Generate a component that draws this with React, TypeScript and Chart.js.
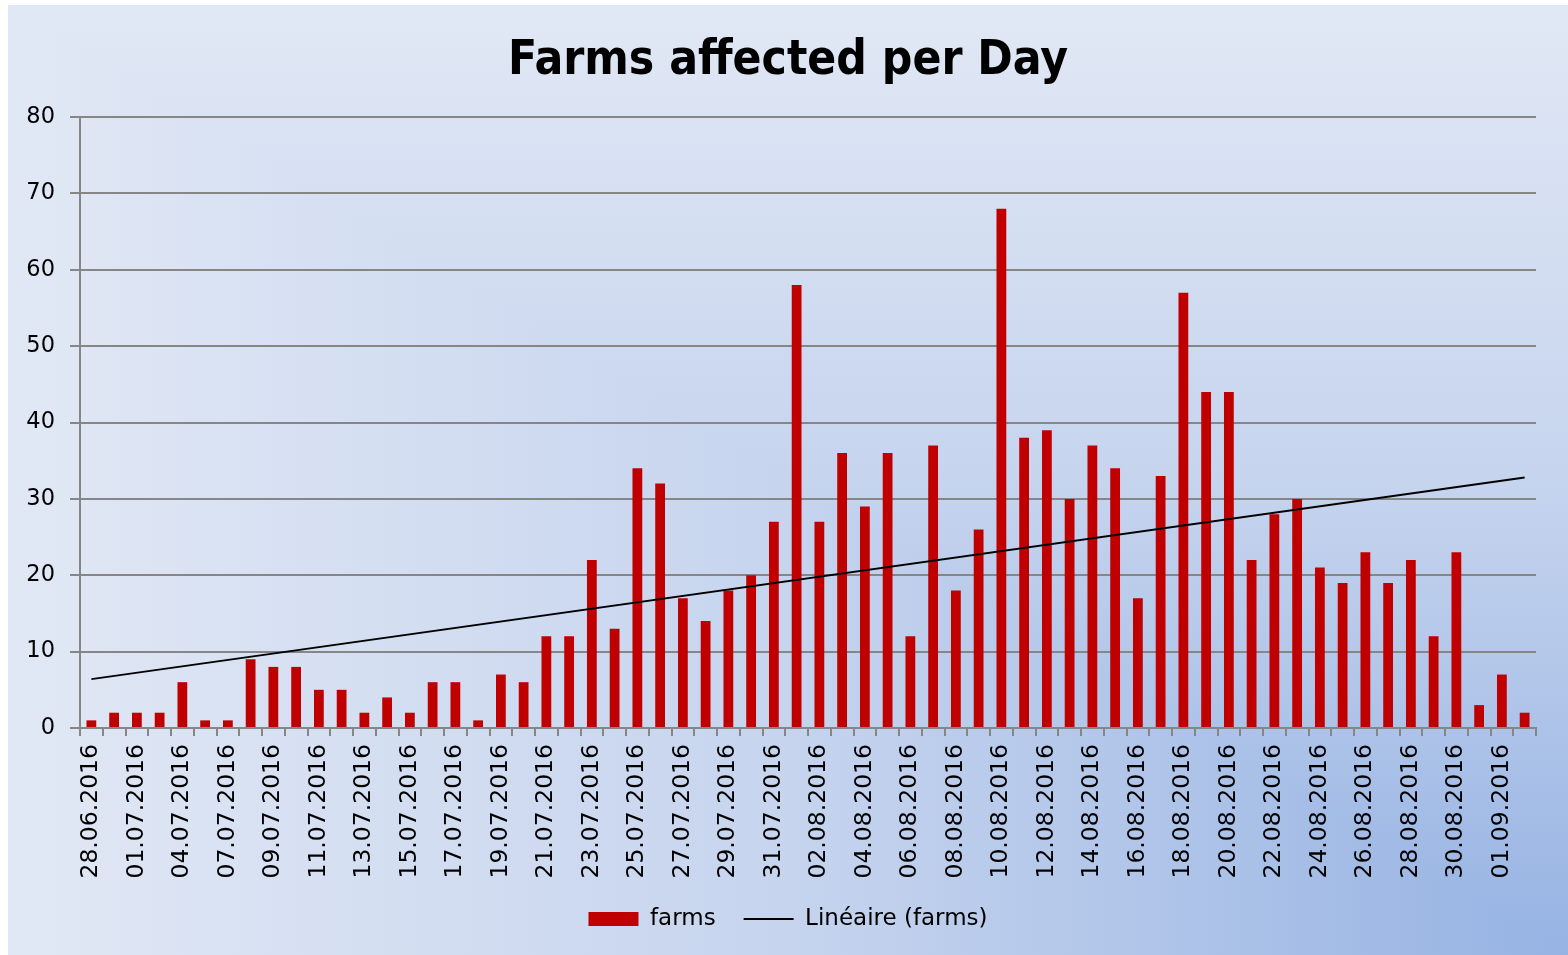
import { useEffect, useRef } from 'react';
import { Chart, registerables } from 'chart.js';

Chart.register(...registerables);

const categories = [
  '28.06.2016', '30.06.2016', '01.07.2016', '02.07.2016', '04.07.2016', '05.07.2016', '07.07.2016',
  '08.07.2016', '09.07.2016', '10.07.2016', '11.07.2016', '12.07.2016', '13.07.2016', '14.07.2016',
  '15.07.2016', '16.07.2016', '17.07.2016', '18.07.2016', '19.07.2016', '20.07.2016', '21.07.2016',
  '22.07.2016', '23.07.2016', '24.07.2016', '25.07.2016', '26.07.2016', '27.07.2016', '28.07.2016',
  '29.07.2016', '30.07.2016', '31.07.2016',
  '01.08.2016', '02.08.2016', '03.08.2016', '04.08.2016', '05.08.2016', '06.08.2016', '07.08.2016',
  '08.08.2016', '09.08.2016', '10.08.2016', '11.08.2016', '12.08.2016', '13.08.2016', '14.08.2016',
  '15.08.2016', '16.08.2016', '17.08.2016', '18.08.2016', '19.08.2016', '20.08.2016', '21.08.2016',
  '22.08.2016', '23.08.2016', '24.08.2016', '25.08.2016', '26.08.2016', '27.08.2016', '28.08.2016',
  '29.08.2016', '30.08.2016', '31.08.2016',
  '01.09.2016', '02.09.2016',
];

const farms = [
  1, 2, 2, 2, 6, 1, 1,
  9, 8, 8, 5, 5, 2, 4,
  2, 6, 6, 1, 7, 6, 12,
  12, 22, 13, 34, 32, 17, 14,
  18, 20, 27,
  58, 27, 36, 29, 36, 12, 37,
  18, 26, 68, 38, 39, 30, 37,
  34, 17, 33, 57, 44, 44, 22,
  28, 30, 21, 19, 23, 19, 22,
  12, 23, 3,
  7, 2,
];

// Excel linear trend line, read at its two ends
const trendStart = 6.4;
const trendEnd = 32.8;

const seriesName = 'farms';
const trendName = 'Linéaire (farms)';
const titleText = 'Farms affected per Day';

const GRAY = '#868686';
const RED = '#C00000';

export default function App() {
  const ref = useRef<HTMLCanvasElement | null>(null);

  useEffect(() => {
    if (!ref.current) return;
    const trend = categories.map((_, i) =>
      i === 0 ? trendStart : i === categories.length - 1 ? trendEnd : null
    );

    const stops: [number, string][] = [
      [0, '#96B3E3'],
      [0.5, '#C6D4EE'],
      [1, '#E1E8F5'],
    ];

    const bgPlugin = {
      id: 'bgGradient',
      beforeDraw(chart: any) {
        const { ctx, width: W, height: H } = chart;
        ctx.save();
        let g = ctx.createLinearGradient(0, H, 0, 0);
        stops.forEach(([o, c]) => g.addColorStop(o, c));
        ctx.fillStyle = g;
        ctx.fillRect(0, 0, W, H);
        ctx.beginPath();
        ctx.moveTo(W, H);
        ctx.lineTo(0, 0);
        ctx.lineTo(0, H);
        ctx.closePath();
        ctx.clip();
        g = ctx.createLinearGradient(W, 0, 0, 0);
        stops.forEach(([o, c]) => g.addColorStop(o, c));
        ctx.fillStyle = g;
        ctx.fillRect(0, 0, W, H);
        ctx.restore();
      },
    };

    const tickFont = { family: "'DejaVu Sans', Verdana, sans-serif", size: 23.5 };

    const chart = new Chart(ref.current, {
      type: 'bar',
      data: {
        labels: categories,
        datasets: [
          {
            type: 'bar',
            label: seriesName,
            data: farms,
            backgroundColor: RED,
            borderWidth: 0,
            categoryPercentage: 1,
            barPercentage: 0.43,
            order: 1,
          } as any,
          {
            type: 'line',
            label: trendName,
            data: trend,
            borderColor: '#000000',
            borderWidth: 2,
            pointRadius: 0,
            spanGaps: true,
            fill: false,
            order: 0,
          } as any,
        ],
      },
      options: {
        responsive: true,
        maintainAspectRatio: false,
        animation: false,
        layout: { padding: { left: 0, right: 0, top: 0, bottom: 14.5 } },
        plugins: {
          title: {
            display: true,
            text: titleText,
            color: '#000000',
            font: {
              family: "'DejaVu Sans Condensed', 'Liberation Sans', sans-serif",
              size: 47.5,
              weight: 'bold',
              lineHeight: 1.2,
            },
            padding: { top: 28, bottom: 27 },
          },
          legend: {
            position: 'bottom',
            labels: {
              usePointStyle: true,
              pointStyleWidth: 50,
              boxHeight: 14,
              padding: 28,
              color: '#000000',
              font: { family: "'DejaVu Sans', Verdana, sans-serif", size: 23 },
              generateLabels: () => [
                {
                  text: seriesName,
                  fillStyle: RED,
                  strokeStyle: RED,
                  lineWidth: 0,
                  pointStyle: 'rect',
                  datasetIndex: 0,
                  hidden: false,
                  fontColor: '#000000',
                },
                {
                  text: trendName,
                  fillStyle: '#000000',
                  strokeStyle: '#000000',
                  lineWidth: 2,
                  pointStyle: 'line',
                  datasetIndex: 1,
                  hidden: false,
                  fontColor: '#000000',
                },
              ],
            },
          },
          tooltip: { enabled: false },
        },
        scales: {
          x: {
            offset: true,
            grid: {
              display: true,
              drawOnChartArea: false,
              drawTicks: true,
              tickLength: 8,
              offset: true,
              color: GRAY,
              lineWidth: 2,
            },
            border: { display: true, color: GRAY, width: 2 },
            ticks: {
              autoSkip: false,
              maxRotation: 90,
              minRotation: 90,
              padding: 8,
              color: '#000000',
              font: tickFont,
              callback: (_v: any, index: number) => (index % 2 === 0 ? categories[index] : ''),
            },
            afterFit: (scale: any) => {
              scale.height = 151.5;
            },
          },
          y: {
            min: 0,
            max: 80,
            ticks: {
              stepSize: 10,
              padding: 15,
              color: '#000000',
              font: { family: "'DejaVu Sans', Verdana, sans-serif", size: 22.5 },
            },
            grid: { color: GRAY, lineWidth: 2, tickLength: 10, drawTicks: true },
            border: { display: true, color: GRAY, width: 2 },
            afterFit: (scale: any) => {
              scale.width = 72;
            },
          },
          spacer: {
            type: 'linear',
            position: 'right',
            display: true,
            grid: { display: false, drawTicks: false },
            border: { display: false },
            ticks: { display: false },
            afterFit: (scale: any) => {
              scale.width = 32;
            },
          },
        },
      } as any,
      plugins: [bgPlugin],
    });

    return () => chart.destroy();
  }, []);

  return (
    <div style={{ position: 'absolute', left: 8, top: 5, width: 1560, height: 950 }}>
      <canvas ref={ref} />
    </div>
  );
}
